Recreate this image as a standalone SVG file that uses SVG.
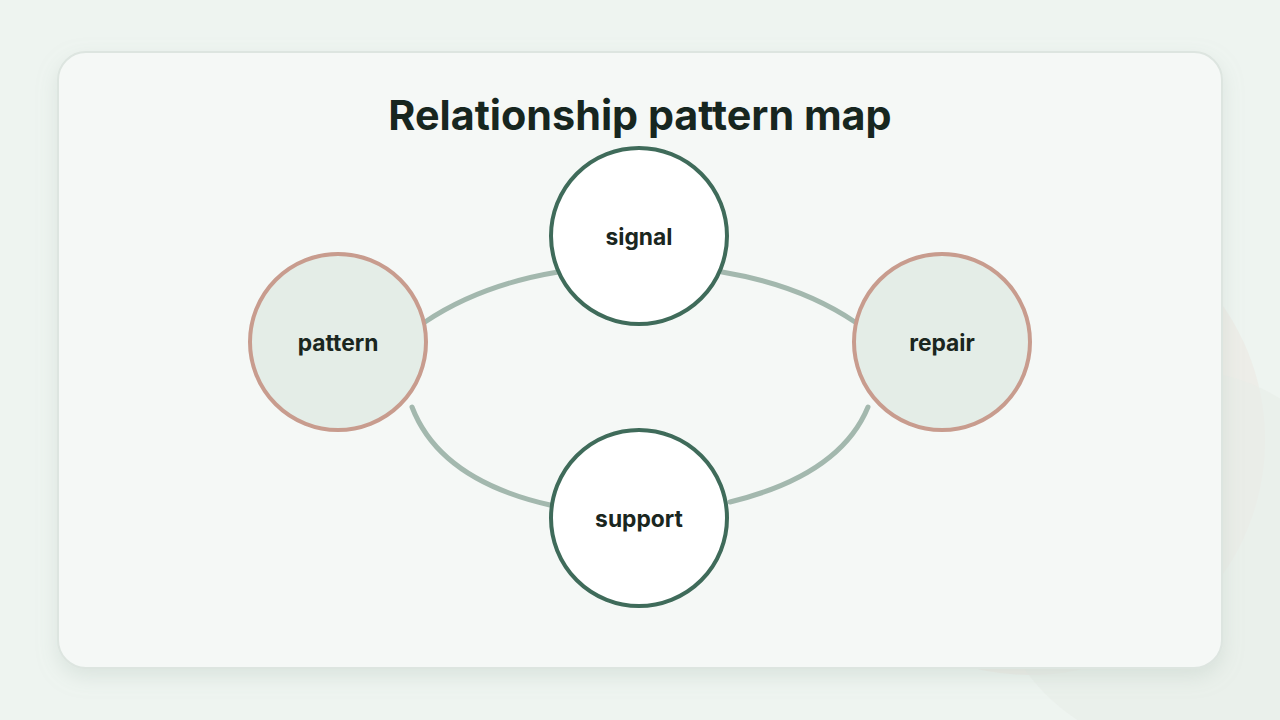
<svg xmlns="http://www.w3.org/2000/svg" width="1280" height="720" viewBox="0 0 1280 720">
<defs>
<style>
.lbl{font-family:"Inter","Liberation Sans",sans-serif;font-weight:700;font-size:22.8px;fill:#1a2620;text-anchor:middle;dominant-baseline:central}
.hub{fill:#ffffff;stroke:#3f6b5a;stroke-width:4}
.side{fill:#e4ede7;stroke:#c89c8e;stroke-width:4}
.con{fill:none;stroke:#a3b8ae;stroke-width:5;stroke-linecap:round}
</style>
<filter id="sh" x="-10%" y="-10%" width="120%" height="130%"><feDropShadow dx="0" dy="8" stdDeviation="10" flood-color="#9fb3a8" flood-opacity="0.25"/></filter>
</defs>
<rect width="1280" height="720" fill="#eef4f0"/>
<circle cx="1030" cy="440" r="235" fill="#ece9e4" opacity="0.7"/>
<circle cx="1180" cy="560" r="190" fill="#e8ece8" opacity="0.6"/>
<rect x="58" y="52" width="1164" height="616" rx="28" fill="#f5f8f6" stroke="#dde5e0" stroke-width="2" filter="url(#sh)"/>
<text x="640" y="115" font-family="Inter,'Liberation Sans',sans-serif" font-weight="700" font-size="41.3" fill="#17261f" text-anchor="middle" dominant-baseline="central">Relationship pattern map</text>
<g id="connectors">
<path class="con" d="M425,322 Q480,285 558,272"/>
<path class="con" d="M722,272 Q800,285 855,322"/>
<path class="con" d="M412,407 Q440,480 550,505"/>
<path class="con" d="M730,502 Q840,475 868,407"/>
</g>
<g id="signal"><circle class="hub" cx="639" cy="236" r="88"/><text class="lbl" x="639" y="236">signal</text></g>
<g id="pattern"><circle class="side" cx="338" cy="342" r="88"/><text class="lbl" x="338" y="342">pattern</text></g>
<g id="repair"><circle class="side" cx="942" cy="342" r="88"/><text class="lbl" x="942" y="342">repair</text></g>
<g id="support"><circle class="hub" cx="639" cy="518" r="88"/><text class="lbl" x="639" y="518">support</text></g>
</svg>
